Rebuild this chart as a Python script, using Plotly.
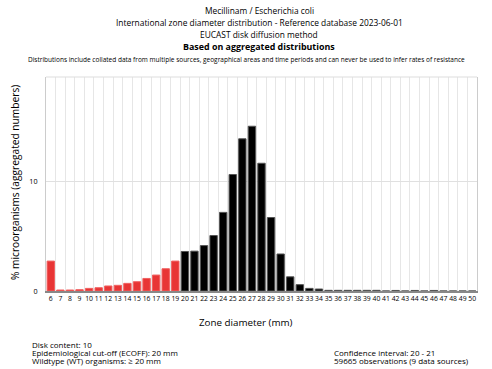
import plotly.graph_objects as go

diameters = list(range(6, 51))
percent = [2.74, 0.09, 0.09, 0.12, 0.24, 0.30, 0.46, 0.52, 0.70, 0.85,
           1.15, 1.46, 2.04, 2.74, 3.62, 3.65, 4.16, 5.08, 7.2, 10.67,
           13.94, 15.09, 11.7, 6.73, 3.39, 1.30, 0.58, 0.24, 0.18, 0.06,
           0.06, 0.06, 0.06, 0.06, 0.06, 0, 0.05, 0, 0.05, 0,
           0.05, 0, 0, 0, 0]
ecoff = 20
tick_labels = [str(d) for d in diameters]

title_lines = [
    "Mecillinam / Escherichia coli",
    "International zone diameter distribution - Reference database 2023-06-01",
    "EUCAST disk diffusion method",
    "<b>Based on aggregated distributions</b>",
]
subtitle = ("Distributions include collated data from multiple sources, geographical areas "
            "and time periods and can never be used to infer rates of resistance")
left_notes = ["Disk content: 10", "Epidemiological cut-off (ECOFF): 20 mm",
              "Wildtype (WT) organisms: \u2265 20 mm"]
right_notes = ["Confidence interval: 20 - 21", "59665 observations (9 data sources)"]

FONT = "Open Sans"
colors = ["#E83535" if d < ecoff else "#000000" for d in diameters]
lines = ["#F06060" if d < ecoff else "#555555" for d in diameters]

fig = go.Figure(go.Bar(
    x=tick_labels, y=percent,
    marker=dict(color=colors, line=dict(color=lines, width=1)),
))

L, R, T, B = 46, 15, 77, 78
W, H = 492, 369
ph = H - T - B
pw = W - L - R

def py(y):
    return (H - B - y) / ph

def px(x):
    return (x - L) / pw

ann = []
for i, t in enumerate(title_lines):
    ann.append(dict(text=t, x=px(259), xref="paper", xanchor="center",
                    y=py(10 + 12 * i), yref="paper", yanchor="middle",
                    showarrow=False,
                    font=dict(family=FONT, size=8.9 if i == 3 else 8.4, color="#000")))
ann.append(dict(text=subtitle, x=px(246), xref="paper", xanchor="center",
                y=py(60), yref="paper", yanchor="middle", showarrow=False,
                font=dict(family=FONT, size=6.5, color="#000")))
for i, t in enumerate(left_notes):
    ann.append(dict(text=t, x=px(30), xref="paper", xanchor="left",
                    y=py(344 + 8.2 * i), yref="paper", yanchor="middle",
                    showarrow=False, font=dict(family=FONT, size=8, color="#000")))
for i, t in enumerate(right_notes):
    ann.append(dict(text=t, x=px(332), xref="paper", xanchor="left",
                    y=py(352 + 8.2 * i), yref="paper", yanchor="middle",
                    showarrow=False, font=dict(family=FONT, size=8, color="#000")))
ann.append(dict(text="Zone diameter (mm)", x=px(246), xref="paper", xanchor="center",
                y=py(322), yref="paper", yanchor="middle", showarrow=False,
                font=dict(family=FONT, size=9.8, color="#000")))
ann.append(dict(text="% microorganisms (aggregated numbers)", x=px(15), xref="paper",
                xanchor="center", y=py(183), yref="paper", yanchor="middle",
                textangle=-90, showarrow=False,
                font=dict(family=FONT, size=10.2, color="#000")))

fig.update_layout(
    width=W, height=H,
    margin=dict(l=L, r=R, t=T, b=B, pad=0),
    paper_bgcolor="white", plot_bgcolor="white",
    bargap=0.23,
    showlegend=False,
    annotations=ann,
    font=dict(family=FONT, color="#000"),
    xaxis=dict(type="category", tickson="boundaries", showgrid=True,
               gridcolor="#E6E6E6", gridwidth=1,
               ticks="outside", ticklen=2, tickcolor="rgba(0,0,0,0)",
               tickmode="array", tickvals=tick_labels, ticktext=tick_labels,
               tickfont=dict(size=6.8, family=FONT, color="#000"), tickangle=0,
               showline=True, linecolor="#888888", linewidth=1.5,
               mirror=False, fixedrange=True),
    yaxis=dict(range=[0, 19.6], tickvals=[0, 10], ticktext=["0", "10"],
               showgrid=True, gridcolor="#E0E0E0", gridwidth=1,
               zeroline=False, ticks="outside", ticklen=6,
               tickcolor="rgba(0,0,0,0)",
               tickfont=dict(size=7.2, family=FONT, color="#000"),
               showline=True, linecolor="#CCCCCC", linewidth=1, mirror=True,
               fixedrange=True),
)
fig.add_shape(type="line", xref="paper", yref="paper", x0=0, x1=1, y0=1, y1=1,
              line=dict(color="#DDDDDD", width=1))

fig.write_html("out.html", config={"displayModeBar": False},
               post_script="document.body.style.margin='0';document.body.style.padding='0';")
